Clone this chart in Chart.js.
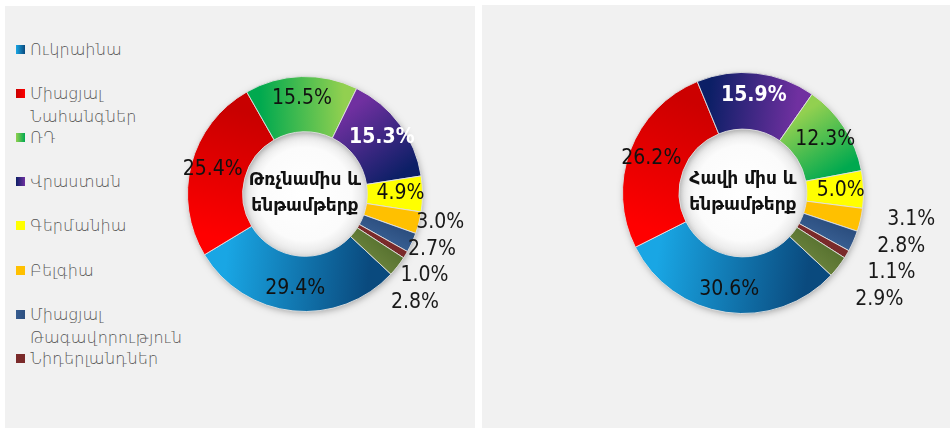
<!DOCTYPE html>
<html>
<head>
<meta charset="utf-8">
<script src="https://cdn.jsdelivr.net/npm/chart.js@4/dist/chart.umd.min.js"></script>
<style>
  body { margin: 0; background: #fff; width: 950px; height: 428px; position: relative; overflow: hidden; }
  .panel { position: absolute; background: #f1f1f1; }
  #leftPanel { left: 5px; top: 6px; width: 470px; height: 422px; }
  #rightPanel { left: 482px; top: 5px; width: 468px; height: 423px; }
  .chartBox { position: absolute; }
  #leftBox { left: 150px; top: 0; width: 320px; height: 422px; }
  #rightBox { left: 0; top: 0; width: 468px; height: 423px; }
  .legendItem { position: absolute; left: 11px; font-family: 'DejaVu Sans', sans-serif; font-weight: 200;
    font-size: 16px; line-height: 23px; color: #555; width: 175px; }
  .legendItem span.sw { position: absolute; left: 0; top: 7px; width: 9px; height: 9px; }
  .legendItem span.tx { display: block; margin-left: 14px; width: 160px; }
</style>
</head>
<body>
<div class="panel" id="leftPanel">
  <div id="legend"></div>
  <div class="chartBox" id="leftBox"><canvas id="poultryChart"></canvas></div>
</div>
<div class="panel" id="rightPanel">
  <div class="chartBox" id="rightBox"><canvas id="chickenChart"></canvas></div>
</div>
<script>
// data
const poultryCategories = ['Ուկրաինա', 'Միացյալ Նահանգներ', 'ՌԴ', 'Վրաստան', 'Գերմանիա', 'Բելգիա', 'Միացյալ Թագավորություն', 'Նիդերլանդներ', 'Այլ'];
const poultryValues = [29.4, 25.4, 15.5, 15.3, 4.9, 3.0, 2.7, 1.0, 2.8];
const chickenCategories = ['Ուկրաինա', 'Միացյալ Նահանգներ', 'Վրաստան', 'ՌԴ', 'Գերմանիա', 'Բելգիա', 'Միացյալ Թագավորություն', 'Նիդերլանդներ', 'Այլ'];
const chickenValues = [30.6, 26.2, 15.9, 12.3, 5.0, 3.1, 2.8, 1.1, 2.9];
const poultryTitle = ['Թռչնամիս և', 'ենթամթերք'];
const chickenTitle = ['Հավի միս և', 'ենթամթերք'];
const legendCount = 8;

// colours: [start of slice, end of slice]
const poultryColors = [
    ['#0a4a7e', '#19a6e4'], ['#ff0000', '#c80000'], ['#00a94f', '#92d050'], ['#7030a0', '#0c1f66'],
    ['#ffff00', '#ffff00'], ['#ffc000', '#ffc000'], ['#2c4f80', '#365c8f'], ['#7a2a2a', '#7a2a2a'], ['#5a7431', '#667f3a']
];
const chickenColors = [
    ['#0a4a7e', '#19a6e4'], ['#ff0000', '#cc0000'], ['#0c1f66', '#7030a0'], ['#92d050', '#00a94f'],
    ['#ffff00', '#ffff00'], ['#ffc000', '#ffc000'], ['#2c4f80', '#365c8f'], ['#7a2a2a', '#7a2a2a'], ['#5a7431', '#667f3a']
];
const whiteLabels = ['Վրաստան'];
const labelFont = "21px 'DejaVu Sans Condensed', 'Liberation Sans Narrow', 'DejaVu Sans', sans-serif";

function arcGradient(c, pairs) {
    const chart = c.chart;
    const arc = chart.getDatasetMeta(0).data[c.dataIndex];
    const pair = pairs[c.dataIndex];
    if (!arc || !arc.outerRadius) return pair[0];
    const r = (arc.innerRadius + arc.outerRadius) / 2;
    const g = chart.ctx.createLinearGradient(
        arc.x + r * Math.cos(arc.startAngle), arc.y + r * Math.sin(arc.startAngle),
        arc.x + r * Math.cos(arc.endAngle), arc.y + r * Math.sin(arc.endAngle));
    g.addColorStop(0, pair[0]);
    g.addColorStop(1, pair[1]);
    return g;
}

// shadow under ring, soft hole, percentage labels and centre title
const ringPlugin = {
    id: 'ring',
    beforeDatasetsDraw(chart) {
        const arc = chart.getDatasetMeta(0).data[0];
        if (!arc || !arc.outerRadius) return;
        const ctx = chart.ctx;
        ctx.save();
        const hole = ctx.createRadialGradient(arc.x, arc.y, 0, arc.x, arc.y, arc.innerRadius);
        hole.addColorStop(0, '#ffffff');
        hole.addColorStop(0.75, '#fbfbfb');
        hole.addColorStop(1, '#e4e4e4');
        ctx.fillStyle = hole;
        ctx.beginPath();
        ctx.arc(arc.x, arc.y, arc.innerRadius + 1, 0, Math.PI * 2);
        ctx.fill();
        ctx.shadowColor = 'rgba(0,0,0,0.35)';
        ctx.shadowBlur = 7;
        ctx.shadowOffsetX = 1;
        ctx.shadowOffsetY = 2;
        ctx.fillStyle = '#999';
        ctx.beginPath();
        ctx.arc(arc.x, arc.y, arc.outerRadius - 1, 0, Math.PI * 2);
        ctx.arc(arc.x, arc.y, arc.innerRadius + 1, 0, Math.PI * 2, true);
        ctx.fill();
        ctx.restore();
    },
    afterDatasetsDraw(chart, args, opts) {
        const meta = chart.getDatasetMeta(0);
        const values = chart.data.datasets[0].data;
        const labels = chart.data.labels;
        const ctx = chart.ctx;
        ctx.save();
        ctx.textAlign = 'center';
        ctx.textBaseline = 'middle';
        let stackY = null;
        meta.data.forEach((arc, i) => {
            const mid = (arc.startAngle + arc.endAngle) / 2;
            const text = values[i].toFixed(1) + '%';
            if (values[i] >= 4) {
                const r = arc.innerRadius + (arc.outerRadius - arc.innerRadius) * 0.6;
                const white = whiteLabels.includes(labels[i]);
                ctx.font = (white ? 'bold ' : '') + labelFont;
                ctx.fillStyle = white ? '#ffffff' : '#111111';
                ctx.fillText(text, arc.x + r * Math.cos(mid), arc.y + r * Math.sin(mid));
            } else {
                // small slices: labels stacked down the right side
                stackY = stackY === null ? arc.y + arc.outerRadius * Math.sin(mid) : stackY + 26.5;
                ctx.font = labelFont;
                ctx.fillStyle = '#1a1a1a';
                ctx.fillText(text, arc.x + (arc.outerRadius + opts.gap) * Math.cos(mid), stackY);
            }
        });
        const arc = meta.data[0];
        ctx.font = "bold 17px 'DejaVu Sans', sans-serif";
        ctx.fillStyle = '#111';
        ctx.fillText(opts.title[0], arc.x, arc.y - 13);
        ctx.fillText(opts.title[1], arc.x, arc.y + 13);
        ctx.restore();
    }
};

function makeDonut(id, cats, vals, pairs, title, gap, padding) {
    const chart = new Chart(document.getElementById(id), {
        type: 'doughnut',
        data: {
            labels: cats,
            datasets: [{
                data: vals,
                backgroundColor: c => arcGradient(c, pairs),
                borderColor: 'rgba(225,225,225,0.9)',
                borderWidth: 1
            }]
        },
        options: {
            responsive: true,
            maintainAspectRatio: false,
            animation: false,
            cutout: '53%',
            rotation: 133,
            layout: { padding: padding },
            events: [],
            plugins: {
                legend: { display: false },
                tooltip: { enabled: false },
                ring: { title: title, gap: gap }
            }
        },
        plugins: [ringPlugin]
    });
    chart.update('none');
    return chart;
}

makeDonut('poultryChart', poultryCategories, poultryValues, poultryColors, poultryTitle, 22,
    { left: 32, right: 52, top: 70, bottom: 116 });
makeDonut('chickenChart', chickenCategories, chickenValues, chickenColors, chickenTitle, 52,
    { left: 140, right: 86, top: 67, bottom: 114 });

// legend for the left panel
const legend = document.getElementById('legend');
legend.innerHTML = poultryCategories.slice(0, legendCount).map((name, i) => `
    <div class="legendItem" style="top:${32 + i * 44.1}px">
        <span class="sw" style="background:linear-gradient(to right, ${poultryColors[i][1]}, ${poultryColors[i][0]})"></span>
        <span class="tx">${name}</span>
    </div>
`).join('');
</script>
</body>
</html>
